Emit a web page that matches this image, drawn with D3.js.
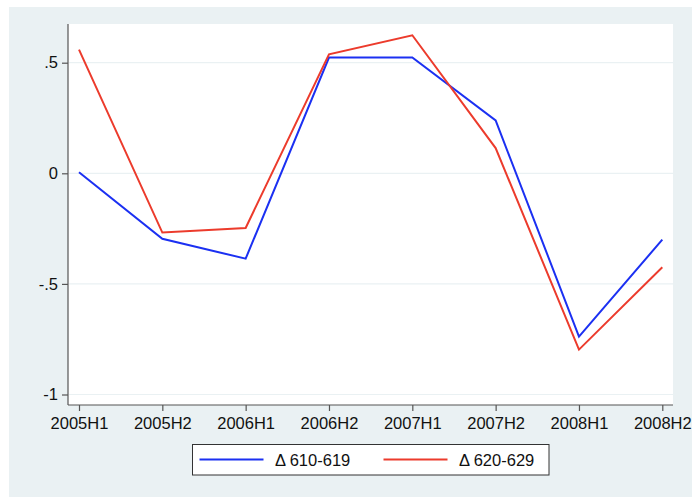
<!DOCTYPE html>
<html>
<head>
<meta charset="utf-8">
<script src="https://cdn.jsdelivr.net/npm/d3@7"></script>
<style>
  html, body { margin: 0; padding: 0; background: #ffffff; }
  svg { display: block; }
  text { font-family: "Liberation Sans", Arial, Helvetica, sans-serif; fill: #111; }
</style>
</head>
<body>
<svg id="chart" width="692" height="497"></svg>
<script>
// Half-year periods on the x axis
const periods = ["2005H1", "2005H2", "2006H1", "2006H2", "2007H1", "2007H2", "2008H1", "2008H2"];

// Change series
const delta610 = [0.005, -0.296, -0.386, 0.523, 0.524, 0.239, -0.738, -0.300];
const delta620 = [0.559, -0.268, -0.247, 0.538, 0.624, 0.114, -0.797, -0.425];

// Y axis ticks and their labels
const yTicks = [0.5, 0, -0.5, -1];
const yTickLabels = [".5", "0", "-.5", "-1"];

// Legend entries
const seriesNames = ["\u0394 610-619", "\u0394 620-629"];
const seriesColors = ["#1b30f2", "#ec3b2c"];

const svg = d3.select("#chart");
const W = 692, H = 497;

// Outer graph region
svg.append("rect").attr("x", 9).attr("y", 7).attr("width", W - 9).attr("height", H - 7)
  .attr("fill", "#eaf1f3");

// Plot region
const plot = { left: 68, right: 673, top: 24, bottom: 405 };
svg.append("rect")
  .attr("x", plot.left).attr("y", plot.top)
  .attr("width", plot.right - plot.left).attr("height", plot.bottom - plot.top)
  .attr("fill", "#ffffff");

const x = d3.scalePoint().domain(periods).range([79, 662.3]);
const y = d3.scaleLinear().domain([-1, 0.5]).range([394.5, 62.7]);

// Grid lines
svg.append("g").selectAll("line").data(yTicks).join("line")
  .attr("x1", plot.left + 1).attr("x2", plot.right)
  .attr("y1", d => y(d)).attr("y2", d => y(d))
  .attr("stroke", "#eaf1f3").attr("stroke-width", 1.2);

// Y axis
const yAxis = d3.axisLeft(y).tickValues(yTicks)
  .tickFormat((d, i) => yTickLabels[i]).tickSize(6).tickPadding(4);
const gy = svg.append("g").attr("transform", `translate(${plot.left},0)`).call(yAxis);
gy.select(".domain").attr("d", `M0,${plot.top}V${plot.bottom}`).attr("stroke", "#555").attr("stroke-width", 1.2);
gy.selectAll(".tick line").attr("stroke", "#555").attr("stroke-width", 1.2);
gy.selectAll(".tick text").attr("font-size", "16.5px").attr("fill", "#111")
  .attr("font-family", "Liberation Sans, Arial, sans-serif");

// X axis
const xAxis = d3.axisBottom(x).tickSize(6).tickPadding(6);
const gx = svg.append("g").attr("transform", `translate(0,${plot.bottom})`).call(xAxis);
gx.select(".domain").attr("d", `M${plot.left},0H${plot.right}`).attr("stroke", "#555").attr("stroke-width", 1.2);
gx.selectAll(".tick line").attr("stroke", "#555").attr("stroke-width", 1.2);
gx.selectAll(".tick text").attr("font-size", "16.5px").attr("fill", "#111")
  .attr("font-family", "Liberation Sans, Arial, sans-serif");

// Lines
const line = d3.line().x((d, i) => x(periods[i])).y(d => y(d));
[delta610, delta620].forEach((vals, k) => {
  svg.append("path").datum(vals)
    .attr("d", line)
    .attr("fill", "none")
    .attr("stroke", seriesColors[k])
    .attr("stroke-width", 2)
    .attr("stroke-linejoin", "miter");
});

// Legend
const lg = svg.append("g");
lg.append("rect").attr("x", 192.5).attr("y", 444.5).attr("width", 356.5).attr("height", 30.5)
  .attr("fill", "#ffffff").attr("stroke", "#333").attr("stroke-width", 1);
const legendX = [199.5, 383.5];
seriesNames.forEach((name, k) => {
  lg.append("line")
    .attr("x1", legendX[k]).attr("x2", legendX[k] + 64)
    .attr("y1", 459.5).attr("y2", 459.5)
    .attr("stroke", seriesColors[k]).attr("stroke-width", 2);
  lg.append("text")
    .attr("x", legendX[k] + 75.5).attr("y", 465.5)
    .attr("font-size", "16.5px")
    .text(name);
});
</script>
</body>
</html>
